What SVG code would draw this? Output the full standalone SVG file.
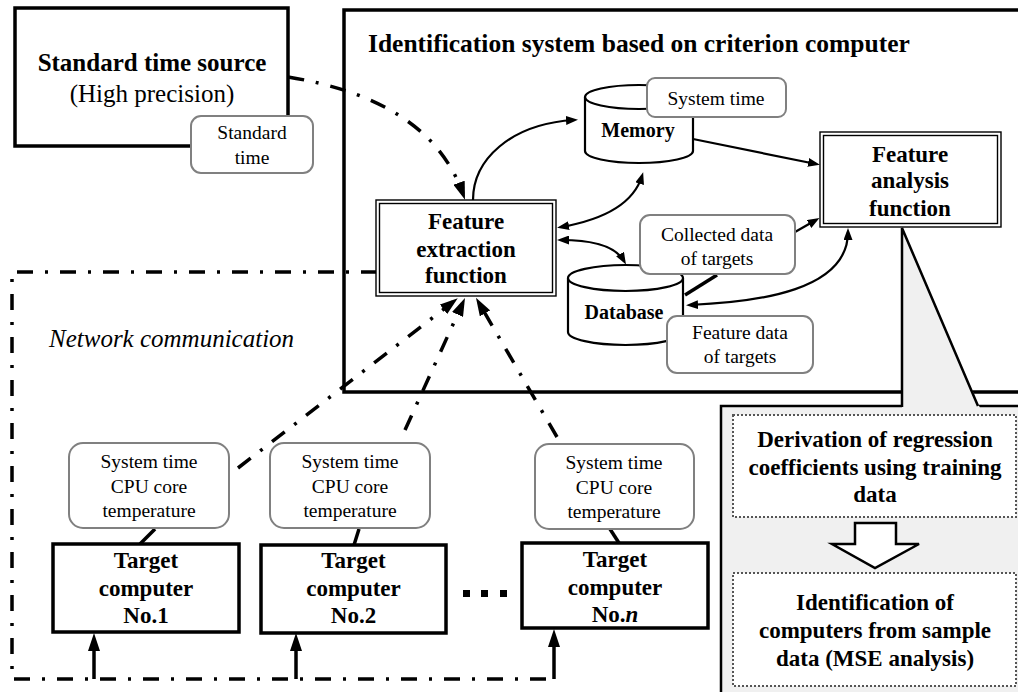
<svg xmlns="http://www.w3.org/2000/svg" width="1018" height="692" viewBox="0 0 1018 692">
<defs>
<style>
text{font-family:"Liberation Serif","Times New Roman",serif;fill:#000}
.b{font-weight:bold}
.c{text-anchor:middle}
.f23{font-size:23px}
.f19{font-size:19.5px}
.box{fill:#fff;stroke:#000;stroke-width:3.5}
.dbl{fill:#fff;stroke:#000;stroke-width:1.4}
.dbli{fill:none;stroke:#000;stroke-width:1.4}
.call{fill:#fff;stroke:#808080;stroke-width:2}
.dd{fill:none;stroke:#000;stroke-width:3.5;stroke-dasharray:16 12 3 12}
.thin{fill:none;stroke:#000;stroke-width:2.2}
.tail{fill:none;stroke:#000;stroke-width:3.5}
.cyl{fill:#fff;stroke:#000;stroke-width:2.2}
.dot{fill:#fff;stroke:#555;stroke-width:2;stroke-dasharray:2 2}
</style>
<marker id="ah" markerUnits="userSpaceOnUse" markerWidth="12" markerHeight="9" refX="8" refY="4.5" orient="auto-start-reverse"><path d="M0,0 L12,4.5 L0,9 z" fill="#000"/></marker>
<marker id="ahb" markerUnits="userSpaceOnUse" markerWidth="18" markerHeight="12" refX="12" refY="6" orient="auto-start-reverse"><path d="M0,0 L18,6 L0,12 z" fill="#000"/></marker>
</defs>
<rect width="1018" height="692" fill="#fff"/>

<g id="main-system">
<rect x="344" y="10" width="700" height="382" fill="none" stroke="#000" stroke-width="3.5"/>
<text x="368" y="52" class="b" font-size="25.5">Identification system based on criterion computer</text>
</g>

<g id="standard-time-source">
<rect class="box" x="15" y="8" width="273" height="138"/>
<text x="152" y="71" class="b c" font-size="25">Standard time source</text>
<text x="152" y="102" class="c" font-size="25">(High precision)</text>
</g>
<g id="standard-time-label">
<rect class="call" x="191" y="116" width="122" height="57" rx="10"/>
<text x="252" y="139" class="c f19">Standard</text>
<text x="252" y="164" class="c f19">time</text>
</g>

<g id="panel">
<rect x="721" y="406" width="320" height="300" fill="#f0f0f0" stroke="#000" stroke-width="2.5"/>
<polygon points="902,228 980,408 902,408" fill="#f0f0f0"/>
<path d="M902,407 V228 L978,406" fill="none" stroke="#000" stroke-width="2.5"/>
</g>

<g id="connectors">
<path class="dd" d="M288,77 Q430,100 463,194" marker-end="url(#ahb)"/>
<path class="dd" d="M377,272 H12 V679 H554"/>
<path class="dd" d="M238,468 L453,302" marker-end="url(#ahb)"/>
<path class="dd" d="M405,430 L462.5,303.5" marker-end="url(#ahb)"/>
<path class="dd" d="M557,437 L479,303" marker-end="url(#ahb)"/>
<path d="M94,679 V639" fill="none" stroke="#000" stroke-width="3.5" marker-end="url(#ahb)"/>
<path d="M296,679 V639" fill="none" stroke="#000" stroke-width="3.5" marker-end="url(#ahb)"/>
<path d="M554,679 V635" fill="none" stroke="#000" stroke-width="3.5" marker-end="url(#ahb)"/>
<path class="thin" d="M473,200 C473,160 510,124 574,120" marker-end="url(#ah)"/>
<path class="thin" d="M561,227 Q630,215 642,176" marker-start="url(#ah)" marker-end="url(#ah)"/>
<path class="thin" d="M561,240 Q612,240 624,261" marker-start="url(#ah)" marker-end="url(#ah)"/>
<path class="thin" d="M693,139 L816,164" marker-end="url(#ah)"/>
<path class="thin" d="M795,232 L816,220" marker-end="url(#ah)"/>
<path class="thin" d="M848,232 C848,290 760,302 690,305" marker-start="url(#ah)" marker-end="url(#ah)"/>
<path class="tail" d="M717,275 L685,295"/>
<path class="tail" d="M155,529 L140,544"/>
<path class="tail" d="M359,529 L354,545"/>
<path class="tail" d="M610,529 L619,543"/>
</g>

<g id="memory">
<path class="cyl" d="M585,97 V151 A54,12 0 0 0 693,151 V97"/>
<ellipse class="cyl" cx="639" cy="97" rx="54" ry="12"/>
<text x="638" y="137" class="b c" font-size="20">Memory</text>
</g>
<g id="system-time-label">
<rect class="call" x="647" y="78" width="139" height="39" rx="8"/>
<text x="716" y="105" class="c f19">System time</text>
</g>

<g id="database">
<path class="cyl" d="M568,278 V332 A57.5,13 0 0 0 683,332 V278"/>
<ellipse class="cyl" cx="625.5" cy="278" rx="57.5" ry="13"/>
<text x="624" y="319" class="b c" font-size="20">Database</text>
</g>
<g id="collected-data-label">
<rect class="call" x="640" y="215" width="155" height="59" rx="10"/>
<text x="717" y="241" class="c f19">Collected data</text>
<text x="717" y="265" class="c f19">of targets</text>
</g>
<g id="feature-data-label">
<rect class="call" x="667" y="316" width="146" height="57" rx="10"/>
<text x="740" y="339" class="c f19">Feature data</text>
<text x="740" y="363" class="c f19">of targets</text>
</g>

<g id="feature-extraction">
<rect class="dbl" x="376" y="200" width="180" height="96"/>
<rect class="dbli" x="379.5" y="203.5" width="173" height="89"/>
<text x="466" y="229" class="b c f23">Feature</text>
<text x="466" y="257" class="b c f23">extraction</text>
<text x="466" y="283" class="b c f23">function</text>
</g>

<g id="feature-analysis">
<rect class="dbl" x="820" y="132" width="181" height="95"/>
<rect class="dbli" x="823.5" y="135.5" width="174" height="88"/>
<text x="910" y="162" class="b c f23">Feature</text>
<text x="910" y="188" class="b c f23">analysis</text>
<text x="910" y="216" class="b c f23">function</text>
</g>

<g id="network-label">
<text x="49" y="347" font-size="25" font-style="italic">Network communication</text>
</g>

<g id="target-1-data">
<rect class="call" x="69" y="443" width="160" height="85" rx="14"/>
<text x="149" y="468" class="c f19">System time</text>
<text x="149" y="493" class="c f19">CPU core</text>
<text x="149" y="517" class="c f19">temperature</text>
</g>
<g id="target-2-data">
<rect class="call" x="270" y="443" width="160" height="85" rx="14"/>
<text x="350" y="468" class="c f19">System time</text>
<text x="350" y="493" class="c f19">CPU core</text>
<text x="350" y="517" class="c f19">temperature</text>
</g>
<g id="target-n-data">
<rect class="call" x="535" y="444" width="159" height="85" rx="14"/>
<text x="614" y="469" class="c f19">System time</text>
<text x="614" y="494" class="c f19">CPU core</text>
<text x="614" y="518" class="c f19">temperature</text>
</g>

<g id="target-1">
<rect class="box" x="53" y="544" width="186" height="88" stroke-width="4"/>
<text x="146" y="568" class="b c f23">Target</text>
<text x="146" y="596" class="b c f23">computer</text>
<text x="146" y="623" class="b c f23">No.1</text>
</g>
<g id="target-2">
<rect class="box" x="261" y="545" width="185" height="88" stroke-width="4"/>
<text x="353.5" y="568" class="b c f23">Target</text>
<text x="353.5" y="596" class="b c f23">computer</text>
<text x="353.5" y="623" class="b c f23">No.2</text>
</g>
<g id="ellipsis">
<rect x="463" y="590" width="7" height="7"/>
<rect x="481" y="590" width="7" height="7"/>
<rect x="500" y="590" width="7" height="7"/>
</g>
<g id="target-n">
<rect class="box" x="522" y="543" width="186" height="85" stroke-width="4"/>
<text x="615" y="567" class="b c f23">Target</text>
<text x="615" y="595" class="b c f23">computer</text>
<text x="615" y="622" class="b c f23">No.<tspan font-style="italic">n</tspan></text>
</g>

<g id="regression-step">
<rect class="dot" x="733" y="415" width="283" height="102"/>
<text x="875" y="447" class="b c f23">Derivation of regression</text>
<text x="875" y="475" class="b c f23">coefficients using training</text>
<text x="875" y="502" class="b c f23">data</text>
</g>
<g id="step-arrow">
<polygon points="855,523 896,523 896,544 919,544 875,568 832,544 855,544" fill="#fff" stroke="#000" stroke-width="2.5"/>
</g>
<g id="identification-step">
<rect class="dot" x="733" y="573" width="283" height="113"/>
<text x="875" y="610" class="b c f23">Identification of</text>
<text x="875" y="638" class="b c f23">computers from sample</text>
<text x="875" y="666" class="b c f23">data (MSE analysis)</text>
</g>
</svg>
